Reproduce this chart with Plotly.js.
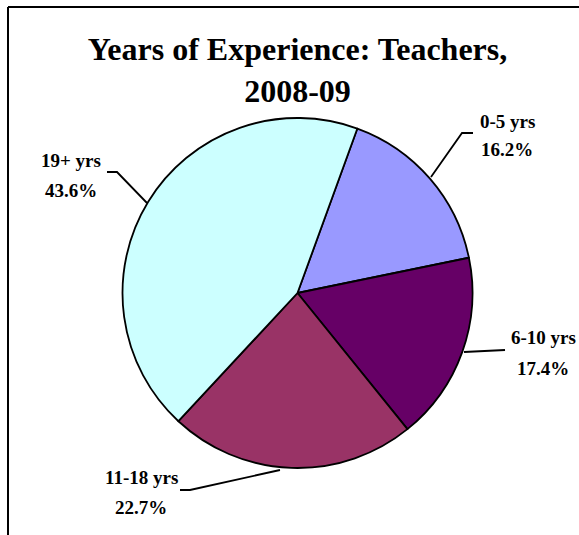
<!DOCTYPE html>
<html>
<head>
<meta charset="utf-8">
<script src="https://cdn.plot.ly/plotly-3.0.1.min.js"></script>
<style>html,body{margin:0;padding:0;background:#fff;}#chart{width:579px;height:535px;}</style>
</head>
<body>
<div id="chart"></div>
<script>
// Data
const categories = ["0-5 yrs", "6-10 yrs", "11-18 yrs", "19+ yrs"];
const percents = [16.2, 17.4, 22.7, 43.6];
const colors = ["#9999FF", "#660066", "#993366", "#CCFFFF"];
const titleText = "Years of Experience: Teachers,<br>2008-09";

const W = 579, H = 535;
const px = x => x / W;
const py = y => 1 - y / H;

// label placements (pixel centers) and leader line paths
const labelPos = [
  {x: 507, y1: 121, y2: 149, line: [[431,177],[462,133],[473,133]]},
  {x: 543, y1: 337, y2: 368, line: [[464,352],[505,350]]},
  {x: 141, y1: 477, y2: 507, line: [[280,470],[190,490],[180,490]]},
  {x: 71,  y1: 160, y2: 190, line: [[147,203],[117,172],[107,172]]}
];

const labelFont = {family: "Liberation Serif, Times New Roman, serif", size: 19, color: "#000"};
const annotations = [];
const shapes = [];
categories.forEach((c, i) => {
  const p = labelPos[i];
  annotations.push({text: "<b>" + c + "</b>", x: px(p.x), y: py(p.y1), xref: "paper", yref: "paper",
    xanchor: "center", yanchor: "middle", showarrow: false, font: labelFont});
  annotations.push({text: "<b>" + percents[i].toFixed(1) + "%</b>", x: px(p.x), y: py(p.y2), xref: "paper", yref: "paper",
    xanchor: "center", yanchor: "middle", showarrow: false, font: labelFont});
  const path = p.line.map((pt, k) => (k ? "L" : "M") + px(pt[0]) + "," + py(pt[1])).join(" ");
  shapes.push({type: "path", xref: "paper", yref: "paper", path: path, line: {color: "#000", width: 1.8}});
});
// chart frame
shapes.push({type: "line", xref: "paper", yref: "paper", x0: px(8), x1: px(8), y0: py(7), y1: py(560), line: {color: "#000", width: 2}});
shapes.push({type: "line", xref: "paper", yref: "paper", x0: px(8), x1: px(600), y0: py(7), y1: py(7), line: {color: "#000", width: 2}});

const cx = 297.5, cy = 293, r = 175;
const trace = {
  type: "pie",
  labels: categories,
  values: percents,
  sort: false,
  direction: "clockwise",
  rotation: 20,
  textinfo: "none",
  hoverinfo: "label+percent",
  marker: {colors: colors, line: {color: "#000", width: 1.8}},
  domain: {x: [px(cx - r), px(cx + r)], y: [py(cy + r), py(cy - r)]},
  showlegend: false
};

const layout = {
  width: W, height: H,
  margin: {l: 0, r: 0, t: 0, b: 0},
  paper_bgcolor: "#fff",
  title: {
    text: "<b>" + titleText + "</b>",
    x: px(297.5), xanchor: "center",
    y: py(60), yanchor: "top", yref: "container",
    font: {family: "Liberation Serif, Times New Roman, serif", size: 32, color: "#000"}
  },
  annotations: annotations,
  shapes: shapes,
  showlegend: false
};

Plotly.newPlot("chart", [trace], layout, {displayModeBar: false, staticPlot: true});
</script>
</body>
</html>
